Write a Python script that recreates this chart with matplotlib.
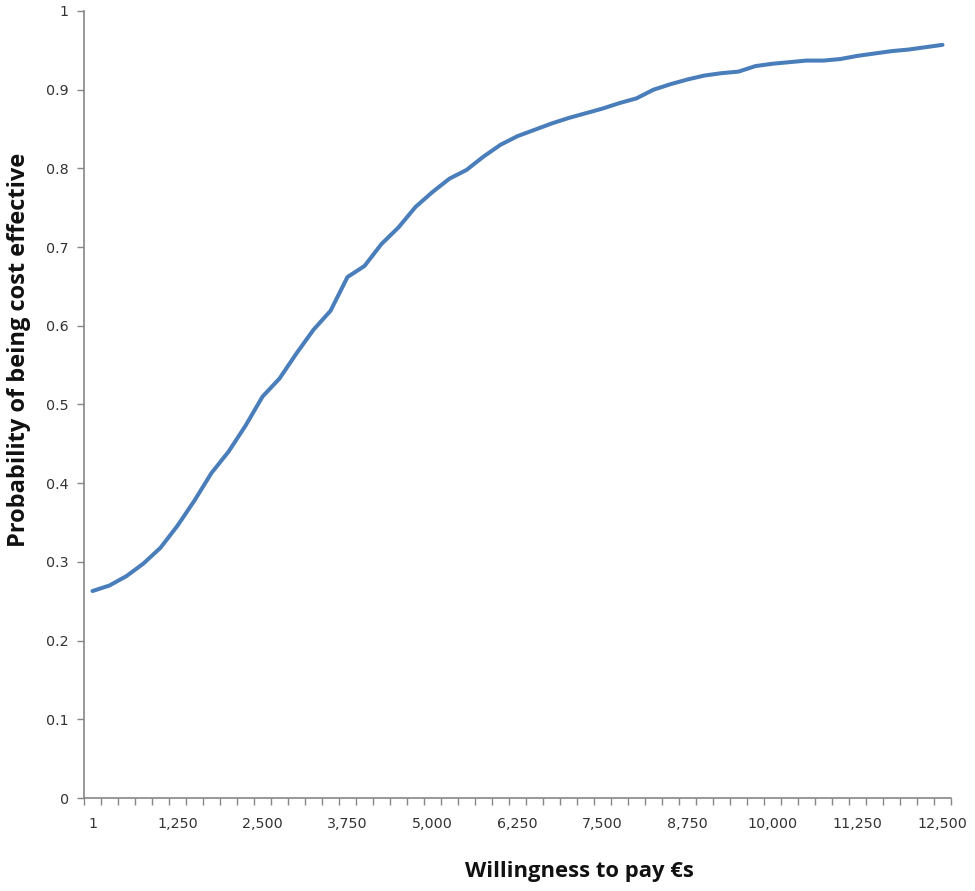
import matplotlib
matplotlib.use("Agg")
import matplotlib.pyplot as plt
from matplotlib.ticker import MultipleLocator, FixedLocator, NullFormatter

# willingness to pay (EUR), one category every 250
wtp = [1, 250, 500, 750, 1000, 1250, 1500, 1750, 2000, 2250,
       2500, 2750, 3000, 3250, 3500, 3750, 4000, 4250, 4500, 4750,
       5000, 5250, 5500, 5750, 6000, 6250, 6500, 6750, 7000, 7250,
       7500, 7750, 8000, 8250, 8500, 8750, 9000, 9250, 9500, 9750,
       10000, 10250, 10500, 10750, 11000, 11250, 11500, 11750, 12000, 12250,
       12500]

# probability of being cost effective
prob = [0.263, 0.270, 0.282, 0.298, 0.318, 0.346, 0.378, 0.413, 0.440, 0.473,
        0.510, 0.533, 0.565, 0.595, 0.619, 0.662, 0.676, 0.704, 0.725, 0.751,
        0.770, 0.787, 0.798, 0.815, 0.830, 0.841, 0.849, 0.857, 0.864, 0.870,
        0.876, 0.883, 0.889, 0.900, 0.907, 0.913, 0.918, 0.921, 0.923, 0.930,
        0.933, 0.935, 0.937, 0.937, 0.939, 0.943, 0.946, 0.949, 0.951, 0.954,
        0.957]

tick_labels = ["1", "1,250", "2,500", "3,750", "5,000", "6,250", "7,500",
               "8,750", "10,000", "11,250", "12,500"]

axis_grey = "#868686"
text_col = "#333333"

fig = plt.figure(figsize=(9.75, 8.91), dpi=100)
ax = fig.add_axes([84 / 975, 1 - 798 / 891, 867 / 975, 787 / 891])

x = list(range(len(wtp)))
ax.plot(x, prob, color="#4a7ebb", lw=2.9, solid_capstyle="round")

ax.set_xlim(-0.5, len(wtp) - 0.5)
ax.set_ylim(0, 1)

# category axis: tick marks between categories, labels every 5th category
ax.xaxis.set_major_locator(FixedLocator([i for i in x if wtp[i] % 1250 in (0, 1)]))
ax.set_xticklabels(tick_labels)
ax.xaxis.set_minor_locator(FixedLocator([i - 0.5 for i in range(len(wtp) + 1)]))
ax.xaxis.set_minor_formatter(NullFormatter())
ax.tick_params(axis="x", which="major", length=0, pad=14, labelsize=10.3, labelcolor=text_col)
ax.tick_params(axis="x", which="minor", length=5, width=1, color=axis_grey, direction="out")

ax.yaxis.set_major_locator(MultipleLocator(0.1))
ax.yaxis.set_major_formatter(plt.FuncFormatter(lambda v, p: "0" if v == 0 else ("1" if abs(v - 1) < 1e-9 else f"{v:.1f}")))
ax.tick_params(axis="y", length=5, width=1, color=axis_grey, direction="out", pad=6,
               labelsize=10.3, labelcolor=text_col)

for side in ["top", "right"]:
    ax.spines[side].set_visible(False)
for side in ["left", "bottom"]:
    ax.spines[side].set_color(axis_grey)
    ax.spines[side].set_linewidth(1.2)

fig.text(579 / 975, 1 - 872 / 891, "Willingness to pay €s", ha="center", va="center",
         fontsize=15.8, fontweight="bold", family="Open Sans", color="#111111")
fig.text(19 / 975, 1 - 350 / 891, "Probability of being cost effective", ha="center",
         va="center", rotation=90, fontsize=17, fontweight="bold", family="Open Sans",
         color="#111111")

fig.savefig("out.png", dpi=100)
